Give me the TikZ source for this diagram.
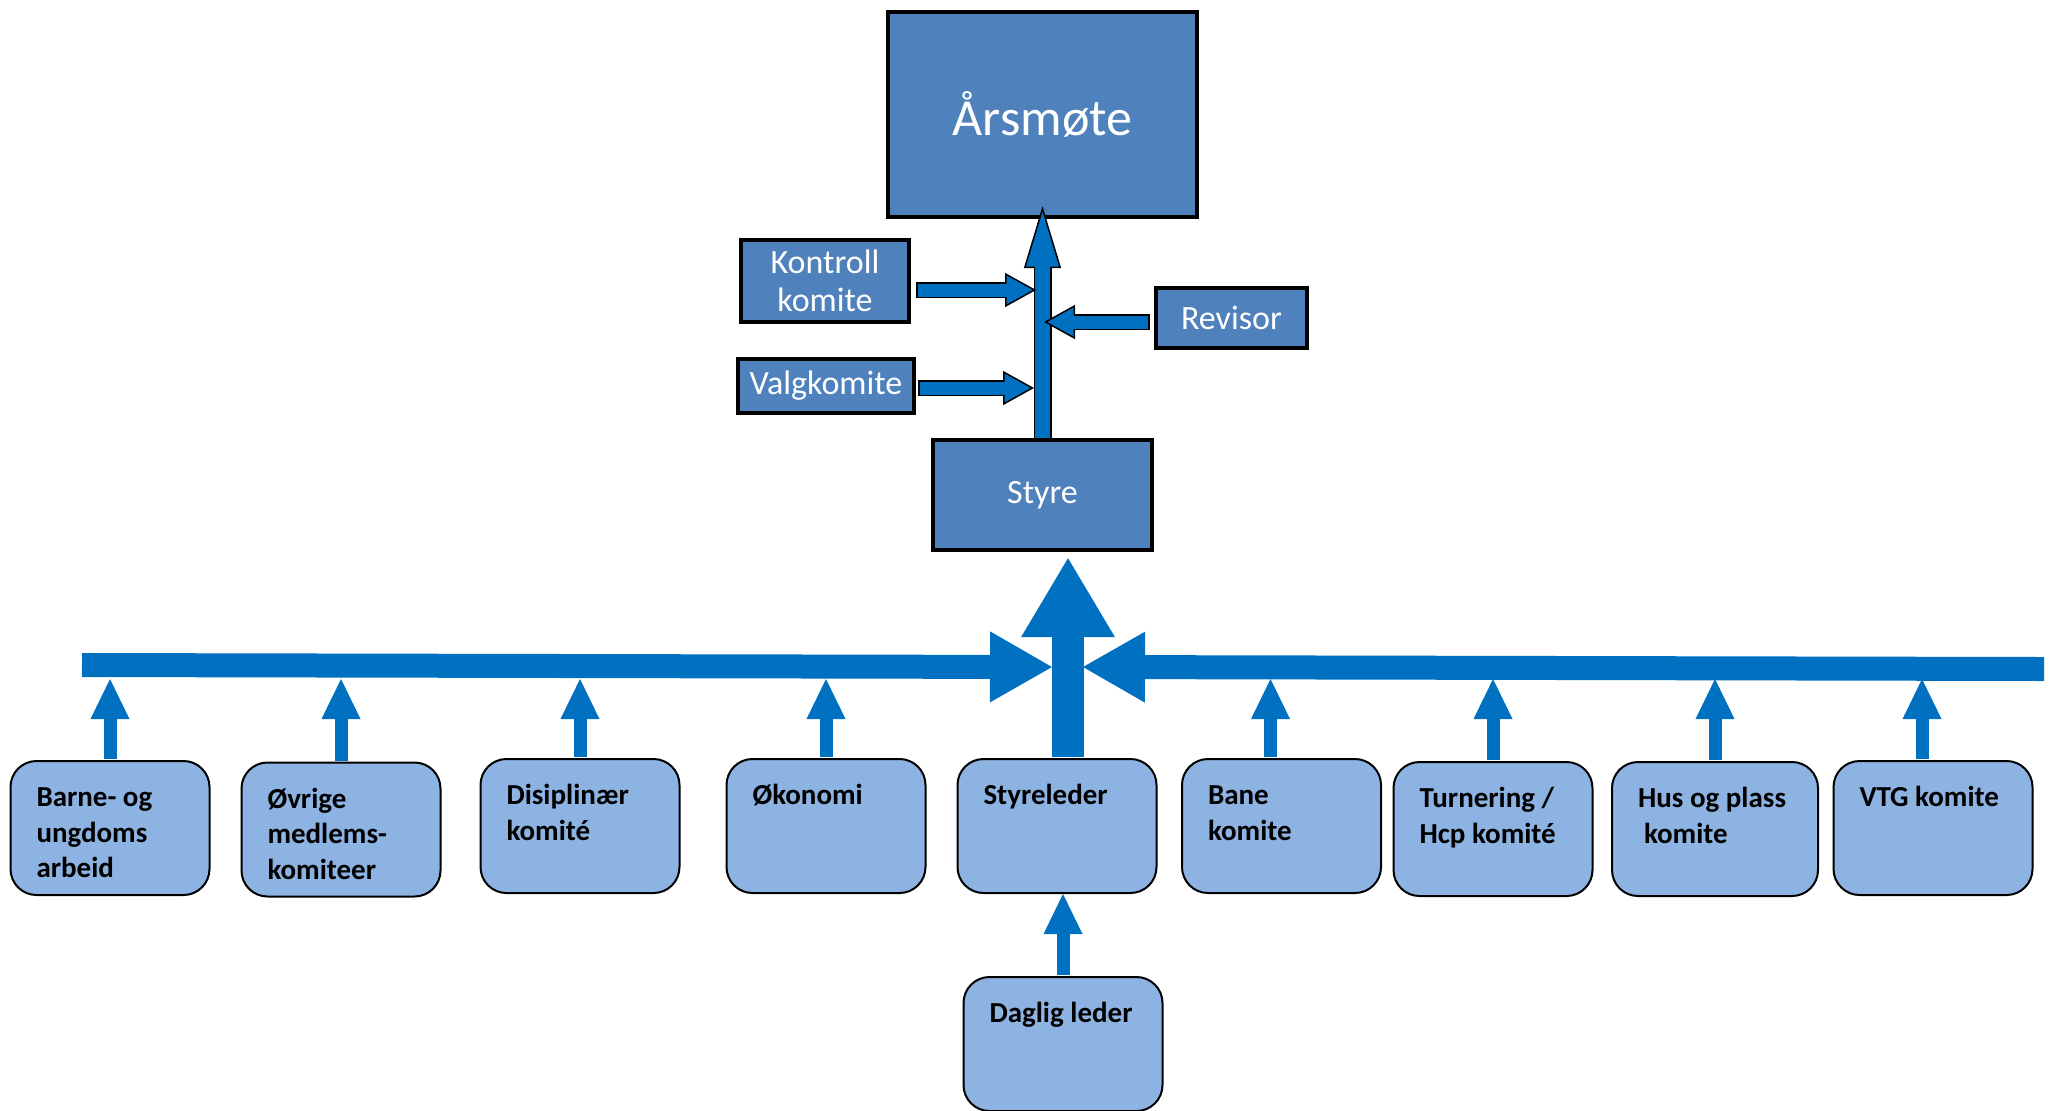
\documentclass[tikz,border=0pt]{standalone}
\usepackage{fontspec}
\setmainfont{Carlito}
\usepackage{xcolor}
\usepackage{tikz}
\usetikzlibrary{positioning,calc,arrows.meta}

\definecolor{boardblue}{HTML}{4F81BD}
\definecolor{unitblue}{HTML}{8DB3E2}
\definecolor{flowblue}{HTML}{0070C0}

\begin{document}
\begin{tikzpicture}[x=0.5pt, y=-0.5pt,
		boardbox/.style={rectangle, draw=black, line width=2.2pt, fill=boardblue, text=white, align=center, inner sep=0pt, font=\fontsize{17}{19}\selectfont},
		unitbox/.style={rectangle, rounded corners=13pt, draw=black, line width=1pt, fill=unitblue, font=\bfseries\fontsize{14.5}{17.75}\selectfont, inner xsep=13pt, inner ysep=9pt, execute at begin node={\begin{minipage}[t][49pt][t]{#1}\raggedright\rule{0pt}{13.8pt}}, execute at end node={\end{minipage}}},
		unitbox/.default=73.5pt,
		uparrow/.style={draw=flowblue, line width=6.5pt, shorten <=0.5pt, -{Triangle[length=20pt, width=19.5pt, line width=0pt]}},
		bararrow/.style={draw=flowblue, line width=12pt, -{Triangle[length=31pt, width=35.5pt, line width=0pt]}},
		bigarrow/.style={draw=flowblue, line width=16pt, shorten <=0.5pt, -{Triangle[length=39.5pt, width=47pt, line width=0pt]}},
		mainlink/.style={draw=flowblue, line width=7.5pt, shorten >=29.5pt, preaction={draw=black, line width=9pt, shorten >=0pt, -{Triangle[length=31pt, width=18.5pt, line width=0.75pt, fill=flowblue]}}},
		sidelink/.style={draw=flowblue, line width=6.5pt, shorten >=14pt, shorten <=0.75pt, preaction={draw=black, line width=8pt, shorten >=0pt, shorten <=0pt, -{Triangle[length=15.5pt, width=17pt, line width=0.75pt, fill=flowblue]}}}]
		\useasboundingbox (0,0) rectangle (2060,1110);

		% Nodes
		\node [boardbox, minimum width=154.5pt, minimum height=102.5pt, font=\fontsize{26}{30}\selectfont] (arsmote) at (1042.5,114.5) {Årsmøte};
		\node [boardbox, minimum width=84pt, minimum height=41pt] (kontroll) at (825,281) {Kontroll\\komite};
		\node [boardbox, minimum width=88pt, minimum height=27pt] (valg) at (826,386) {Valgkomite};
		\node [boardbox, minimum width=75.5pt, minimum height=30pt] (revisor) at (1231.5,318) {Revisor};
		\node [boardbox, minimum width=109.5pt, minimum height=55pt] (styre) at (1042.5,495) {Styre};

		\node [unitbox] (barne) at (110,828) {Barne- og\\ungdoms\\arbeid};
		\node [unitbox] (ovrige) at (341,829.5) {Øvrige\\medlems-\\komiteer};
		\node [unitbox] (disiplin) at (580,826) {Disiplinær\\komité};
		\node [unitbox] (okonomi) at (826,826) {Økonomi};
		\node [unitbox] (styreleder) at (1057,826) {Styreleder};
		\node [unitbox] (bane) at (1281.5,826) {Bane\\komite};
		\node [unitbox] (turnering) at (1493,829) {Turnering /\\Hcp komité};
		\node [unitbox=77pt] (hus) at (1715,829) {Hus og plass\\\hspace*{3pt}komite};
		\node [unitbox] (vtg) at (1933,828) {VTG komite};
		\node [unitbox, below=41pt of styreleder, xshift=3pt] (daglig) {Daglig leder};

		\coordinate (spine) at (1043,0);
		\coordinate (hub) at (1067.5,667);
		\coordinate (barleft) at (82,665);
		\coordinate (barright) at (2044,669);
		\coordinate (rail) at (0,679);

		% Arrows
		\draw [mainlink] (styre.north) -- ($(arsmote.south)+(0,-13)$);
		\draw [sidelink] ($(kontroll.east)+(5,9)$) -- ($(kontroll.east -| spine)+(-7,9)$);
		\draw [sidelink] ($(valg.east)+(2,2)$) -- ($(valg.east -| spine)+(-9,2)$);
		\draw [sidelink] ($(revisor.west)+(-4,4)$) -- ($(revisor.west -| spine)+(1,4)$);

		\draw [bararrow] (barleft) -- ($(hub)+(-15.5,0)$);
		\draw [bararrow] (barright) -- ($(hub)+(15.5,0)$);
		\foreach \grp in {barne,ovrige,disiplin,okonomi,turnering,hus}
			\draw [uparrow] (\grp.north) -- (\grp.north |- rail);
		\draw [uparrow] ($(bane.north)+(-11,0)$) -- ($(bane.north |- rail)+(-11,0)$);
		\draw [uparrow] ($(vtg.north)+(-11,0)$) -- ($(vtg.north |- rail)+(-11,0)$);
		\draw [uparrow] (daglig.north) -- (daglig.north |- styreleder.south);
		\draw [bigarrow] ($(styreleder.north)+(11,0)$) -- ($(styreleder.north |- styre.south)+(11,6)$);
	\end{tikzpicture}
\end{document}
